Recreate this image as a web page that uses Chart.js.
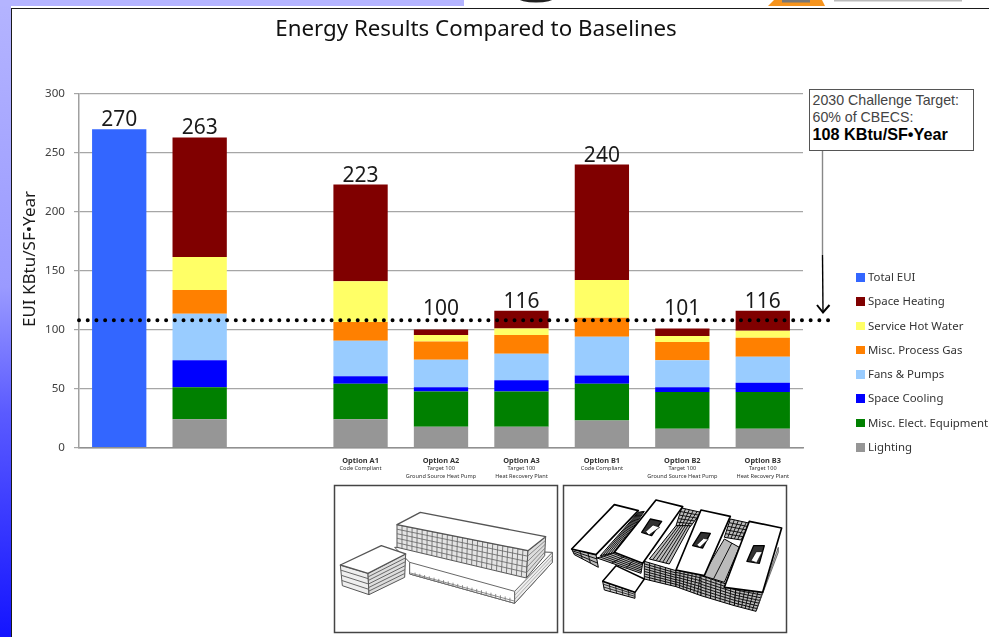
<!DOCTYPE html>
<html>
<head>
<meta charset="utf-8">
<title>Energy Results Compared to Baselines</title>
<script src="https://cdn.jsdelivr.net/npm/chart.js@4"></script>
<style>
    html, body { margin: 0; padding: 0; background: #fff; }
    #page { position: relative; width: 989px; height: 637px; overflow: hidden; background: #fff; }
    #side { position: absolute; left: 0; top: 0; width: 11px; height: 637px; background: linear-gradient(#b4b4ff, #9a9aff 45%, #5a5aff 65%, #1414ff); }
    #strip { position: absolute; left: 0; top: 0; width: 464px; height: 6px; background: #b4b4ff; }
    #frame { position: absolute; left: 11px; top: 8px; width: 978px; height: 629px; border-left: 1.5px solid #1a1a1a; border-top: 1.5px solid #1a1a1a; box-sizing: border-box; }
    #chart { position: absolute; left: 0; top: 0; }
    #art { position: absolute; left: 0; top: 0; }
    #legend { position: absolute; left: 856px; top: 265px; font: 11.4px "Noto Sans", sans-serif; color: #333; }
    #legend div { position: relative; height: 24.3px; line-height: 24.3px; padding-left: 12px; white-space: nowrap; }
    #legend i { position: absolute; left: 0; top: 8px; width: 8.5px; height: 8.5px; }
    #callout { position: absolute; left: 809px; top: 89px; width: 165px; height: 62px; box-sizing: border-box; border: 1.5px solid #555; background: #fff; padding: 2px 0 0 2.5px; font: 14.2px/17px "Liberation Sans", sans-serif; color: #444; white-space: nowrap; }
    #callout b { font-size: 16.2px; color: #000; line-height: 17px; }
</style>
</head>
<body>
<div id="page">
    <div id="side"></div>
    <div id="strip"></div>
    <div id="frame"></div>
    <canvas id="chart" width="989" height="637"></canvas>
    <svg id="art" width="989" height="637"></svg>
    <div id="callout">2030 Challenge Target:<br>60% of CBECS:<br><b>108 KBtu/SF&bull;Year</b></div>
    <div id="legend"></div>
</div>
<script>
// End-use breakdown per scheme, kBtu/SF/year
const categories = ['', '', '', 'Option A1', 'Option A2', 'Option A3', 'Option B1', 'Option B2', 'Option B3'];
const categoryNotes = [[], [], [],
    ['Code Compliant'],
    ['Target 100', 'Ground Source Heat Pump'],
    ['Target 100', 'Heat Recovery Plant'],
    ['Code Compliant'],
    ['Target 100', 'Ground Source Heat Pump'],
    ['Target 100', 'Heat Recovery Plant']];

const totalEui     = [270, null, null, null, null, null, null, null, null];
const spaceHeating = [null, 101.5, null, 82, 4.5, 15, 98, 6.5, 17];
const serviceWater = [null, 28, null, 34.5, 5.5, 5.5, 32, 5, 6];
const processGas   = [null, 20, null, 16, 15.5, 16, 16, 15.5, 16];
const fansPumps    = [null, 39.5, null, 30, 23.5, 22.5, 33, 23, 22];
const spaceCooling = [null, 23, null, 6.5, 3.5, 9.5, 7, 4, 8];
const miscEquip    = [null, 27, null, 30, 30, 30, 31, 31, 31];
const lighting     = [null, 24, null, 24, 17.5, 17.5, 23, 16, 16];
const totalLabels  = [270, 263, null, 223, 100, 116, 240, 101, 116];

const yTicks = [0, 50, 100, 150, 200, 250, 300];
const targetEui = 108;

const series = [
    { name: 'Total EUI', values: totalEui, color: '#3366ff' },
    { name: 'Space Heating', values: spaceHeating, color: '#800000' },
    { name: 'Service Hot Water', values: serviceWater, color: '#ffff66' },
    { name: 'Misc. Process Gas', values: processGas, color: '#ff8000' },
    { name: 'Fans & Pumps', values: fansPumps, color: '#99ccff' },
    { name: 'Space Cooling', values: spaceCooling, color: '#0000ff' },
    { name: 'Misc. Elect. Equipment', values: miscEquip, color: '#008000' },
    { name: 'Lighting', values: lighting, color: '#969696' }
];

const chartFont = '"Noto Sans", sans-serif';

// Target line, bar totals, the y axis caption and the small lines under each option name
const annotations = {
    id: 'annotations',
    afterLayout(chart) {
        // the heading is centred over plot plus callout, not the plot alone
        chart.titleBlock.left += 149;
    },
    afterDatasetsDraw(chart) {
        const { ctx, scales: { x, y } } = chart;
        const targetY = y.getPixelForValue(targetEui);
        ctx.save();

        // dotted target runs past the plot, as far as the callout arrow
        ctx.beginPath();
        ctx.setLineDash([0.01, 8.7]);
        ctx.lineCap = 'round';
        ctx.lineWidth = 4;
        ctx.strokeStyle = '#000';
        ctx.moveTo(x.left, targetY);
        ctx.lineTo(x.right + 29, targetY);
        ctx.stroke();
        ctx.setLineDash([]);

        ctx.fillStyle = '#1a1a1a';
        ctx.textAlign = 'center';
        ctx.textBaseline = 'alphabetic';
        ctx.font = '21px ' + chartFont;
        totalLabels.forEach((value, i) => {
            if (value === null) return;
            let top = y.getPixelForValue(value) - 3;
            // totals under the target line sit above it instead
            if (value < targetEui) top = targetY - 5;
            ctx.fillText(value, x.getPixelForValue(i), top);
        });
        ctx.fillStyle = '#333';
        ctx.font = '5.6px ' + chartFont;
        categoryNotes.forEach((lines, i) => {
            lines.forEach((line, n) => {
                ctx.fillText(line, x.getPixelForValue(i), 470 + n * 8);
            });
        });
        ctx.fillStyle = '#1a1a1a';
        ctx.font = '17px ' + chartFont;
        ctx.translate(35, 259);
        ctx.rotate(-Math.PI / 2);
        ctx.fillText('EUI KBtu/SF\u2022Year', 0, 0);
        ctx.restore();
    }
};

const datasets = series.slice().reverse().map(s => ({
    label: s.name,
    data: s.values,
    backgroundColor: s.color,
    borderWidth: 0,
    barPercentage: 0.675,
    categoryPercentage: 1
}));

new Chart(document.getElementById('chart'), {
    type: 'bar',
    data: { labels: categories, datasets: datasets },
    plugins: [annotations],
    options: {
        responsive: false,
        animation: false,
        layout: { padding: { right: 186 } },
        plugins: {
            legend: { display: false },
            tooltip: { enabled: false },
            title: {
                display: true,
                text: 'Energy Results Compared to Baselines',
                color: '#111',
                font: { family: chartFont, size: 22.3, weight: 'normal' },
                padding: { top: 16, bottom: 51 }
            }
        },
        scales: {
            x: {
                stacked: true,
                grid: { display: false, drawTicks: false },
                border: { color: '#909090', width: 1.5 },
                afterFit(scale) { scale.height = 189.5; },
                ticks: {
                    autoSkip: false,
                    maxRotation: 0,
                    padding: 9,
                    color: '#333',
                    font: { family: chartFont, size: 7.4, weight: 'bold' }
                }
            },
            y: {
                stacked: true,
                min: 0,
                max: 300,
                afterFit(scale) { scale.width = 79; },
                afterBuildTicks(scale) { scale.ticks = yTicks.map(v => ({ value: v })); },
                grid: { color: '#a6a6a6', lineWidth: 1.2, tickLength: 5 },
                border: { color: '#a0a0a0', width: 1.5 },
                ticks: {
                    padding: 9,
                    color: '#404040',
                    font: { family: chartFont, size: 11.6 }
                }
            }
        }
    }
});

// Legend column, same names and colours as the bars
const legendBox = document.getElementById('legend');
series.forEach(s => {
    const row = document.createElement('div');
    const swatch = document.createElement('i');
    swatch.style.background = s.color;
    row.appendChild(swatch);
    row.appendChild(document.createTextNode(s.name));
    legendBox.appendChild(row);
});

// Callout arrow, header scraps and the two massing sketches
const art = document.getElementById('art');
function svgEl(tag, attrs, parent) {
    const el = document.createElementNS('http://www.w3.org/2000/svg', tag);
    Object.keys(attrs).forEach(k => el.setAttribute(k, attrs[k]));
    (parent || art).appendChild(el);
    return el;
}
function poly(points, fill, stroke, width, parent) {
    svgEl('polygon', { points: points.map(p => p.join(',')).join(' '), fill: fill, stroke: stroke, 'stroke-width': width, 'stroke-linejoin': 'round' }, parent);
}
// hatch a four sided face a-b-c-d with floor and bay lines
function hatch(a, b, c, d, rows, cols, color, width, parent) {
    const mix = (p, q, t) => [p[0] + (q[0] - p[0]) * t, p[1] + (q[1] - p[1]) * t];
    let path = '';
    for (let r = 1; r < rows; r++) {
        const s = mix(a, d, r / rows), e = mix(b, c, r / rows);
        path += 'M' + s.join(' ') + 'L' + e.join(' ');
    }
    for (let k = 1; k < cols; k++) {
        const s = mix(a, b, k / cols), e = mix(d, c, k / cols);
        path += 'M' + s.join(' ') + 'L' + e.join(' ');
    }
    svgEl('path', { d: path, stroke: color, 'stroke-width': width, fill: 'none' }, parent);
}

// header fragments along the top edge
svgEl('ellipse', { cx: 536, cy: -2, rx: 18, ry: 4.5, fill: '#222' });
svgEl('polygon', { points: '768,6 774,0 822,0 825,6', fill: '#f7941d' });
svgEl('rect', { x: 782, y: 0, width: 28, height: 2.5, fill: '#777' });
svgEl('rect', { x: 834, y: 0, width: 128, height: 1.5, fill: '#bbb' });

// arrow from the callout down to the target line
svgEl('line', { x1: 822.5, y1: 150, x2: 822.5, y2: 255, stroke: '#888', 'stroke-width': 1.4 });
svgEl('line', { x1: 822.5, y1: 255, x2: 823, y2: 312, stroke: '#000', 'stroke-width': 1.4 });
svgEl('polyline', { points: '817,305 823,312.5 829.5,305', fill: 'none', stroke: '#000', 'stroke-width': 2 });

// sketch frames
svgEl('rect', { x: 334.5, y: 485.5, width: 223, height: 147, fill: '#fff', stroke: '#444', 'stroke-width': 1.5 });
svgEl('rect', { x: 563.5, y: 485.5, width: 223, height: 147, fill: '#fff', stroke: '#444', 'stroke-width': 1.5 });

// option A massing
const left = svgEl('g', { transform: 'translate(333 484) scale(0.3333)' });
poly([[185, 190], [658, 205], [658, 235], [545, 358], [230, 270], [230, 235]], '#fff', '#555', 3, left);
poly([[230, 235], [545, 322], [545, 358], [230, 270]], '#fff', '#666', 3, left);
hatch([232, 262], [545, 345], [545, 358], [232, 272], 2, 22, '#777', 2.5, left);
poly([[545, 322], [658, 205], [658, 235], [545, 358]], '#eee', '#666', 3, left);
hatch([545, 322], [658, 205], [658, 235], [545, 358], 3, 1, '#888', 2, left);
poly([[192, 122], [585, 200], [580, 282], [192, 190]], '#e4e4e4', '#555', 3, left);
hatch([192, 122], [585, 200], [580, 282], [192, 190], 5, 26, '#666', 2.5, left);
poly([[585, 200], [638, 158], [635, 215], [580, 282]], '#ddd', '#555', 3, left);
hatch([585, 200], [638, 158], [635, 215], [580, 282], 5, 1, '#777', 2.5, left);
poly([[192, 122], [262, 85], [638, 158], [585, 200]], '#fff', '#555', 4, left);
poly([[22, 243], [105, 268], [108, 332], [28, 305]], '#eee', '#555', 3, left);
hatch([22, 243], [105, 268], [108, 332], [28, 305], 4, 1, '#666', 3, left);
poly([[105, 268], [218, 210], [215, 280], [108, 332]], '#ddd', '#555', 3, left);
hatch([105, 268], [218, 210], [215, 280], [108, 332], 6, 1, '#666', 3, left);
poly([[22, 243], [145, 185], [218, 210], [105, 268]], '#fff', '#555', 4, left);

// option B massing
const right = svgEl('g', { transform: 'translate(561 484) scale(0.3333)' });
function darkFace(a, b, c, d, rows, cols) {
    poly([a, b, c, d], '#bbb', '#000', 3, right);
    hatch(a, b, c, d, rows, cols, '#111', 3, right);
}
darkFace([232, 85], [250, 82], [165, 205], [118, 215], 1, 6);
darkFace([362, 72], [420, 85], [388, 128], [345, 125], 5, 5);
darkFace([508, 105], [568, 118], [540, 168], [490, 160], 5, 5);
darkFace([345, 125], [388, 125], [325, 240], [265, 225], 1, 6);
darkFace([490, 165], [535, 190], [490, 295], [425, 275], 1, 2);
darkFace([32, 195], [105, 212], [112, 250], [40, 212], 3, 3);
darkFace([108, 222], [165, 205], [245, 238], [240, 268], 3, 6);
darkFace([250, 232], [345, 260], [345, 308], [250, 285], 7, 6);
darkFace([345, 258], [430, 275], [420, 335], [345, 308], 7, 7);
darkFace([420, 275], [525, 310], [520, 365], [420, 335], 7, 7);
darkFace([525, 310], [605, 325], [585, 382], [520, 365], 7, 6);
poly([[605, 325], [652, 190], [652, 205], [585, 382]], '#ccc', '#333', 2, right);
poly([[125, 292], [222, 325], [222, 343], [130, 318]], '#ccc', '#000', 3, right);
hatch([125, 292], [222, 325], [222, 343], [130, 318], 3, 5, '#111', 2.5, right);
poly([[125, 292], [165, 245], [250, 285], [222, 325]], '#fff', '#000', 4.5, right);
poly([[32, 195], [160, 62], [232, 80], [105, 212]], '#fff', '#000', 5, right);
poly([[160, 205], [285, 48], [365, 68], [245, 238]], '#fff', '#000', 5, right);
poly([[345, 258], [420, 78], [508, 97], [430, 275]], '#fff', '#000', 5, right);
poly([[490, 310], [565, 112], [662, 132], [605, 325]], '#fff', '#000', 5, right);
const courtyards = [
    [[242, 145], [268, 105], [302, 112], [272, 155]],
    [[395, 185], [420, 145], [448, 148], [425, 192]],
    [[558, 232], [578, 185], [610, 185], [595, 238]]
];
courtyards.forEach(c => {
    poly(c, '#333', '#000', 4, right);
    poly([[c[0][0] + 12, c[0][1] - 2], [c[1][0] + 8, c[1][1] + 18], [c[2][0] - 6, c[2][1] + 18], [c[3][0] - 8, c[3][1] - 2]], '#fff', '#000', 2, right);
});
</script>
</body>
</html>
